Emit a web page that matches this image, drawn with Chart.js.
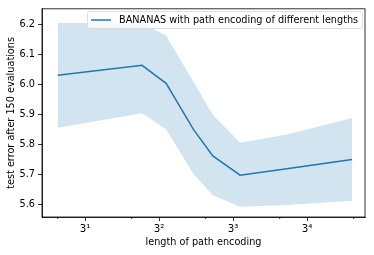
<!DOCTYPE html>
<html>
<head>
<meta charset="utf-8">
<script src="https://cdn.jsdelivr.net/npm/chart.js@4"></script>
<style>
  html, body { margin: 0; padding: 0; background: #fff; }
  #wrap { width: 374px; height: 255px; }
</style>
</head>
<body>
<div id="wrap"><canvas id="chart" width="374" height="255"></canvas></div>
<script>
// path encoding lengths and test error after 150 evaluations
const pathLengths = [2, 7, 10, 15, 20, 30, 60, 158];
const meanError = [6.031, 6.064, 6.004, 5.850, 5.761, 5.697, 5.718, 5.749];
const upperError = [6.206, 6.206, 6.164, 6.009, 5.899, 5.805, 5.833, 5.888];
const lowerError = [5.855, 5.904, 5.850, 5.701, 5.630, 5.591, 5.597, 5.611];

const xTicks = [3, 9, 27, 81];
const xTickLabels = ['3\u00b9', '3\u00b2', '3\u00b3', '3\u2074'];
const xMinorTicks = [2, 6, 18, 54, 162];
const yTicks = [5.6, 5.7, 5.8, 5.9, 6.0, 6.1, 6.2];

const seriesLabel = 'BANANAS with path encoding of different lengths';
const lineColor = '#1f77b4';
const bandColor = 'rgba(31,119,180,0.2)';
const fontFamily = "'DejaVu Sans', sans-serif";
const fontSize = 9.7;

function toPoints(vals) {
  return pathLengths.map((x, i) => ({ x: x, y: vals[i] }));
}

// frame on all four sides, minor ticks and the boxed legend
const mplExtras = {
  id: 'mplExtras',
  afterDraw(chart) {
    const ctx = chart.ctx;
    const a = chart.chartArea;
    const xs = chart.scales.x;
    ctx.save();
    ctx.strokeStyle = '#000';
    ctx.lineWidth = 0.8;
    ctx.strokeRect(a.left, a.top, a.right - a.left, a.bottom - a.top);

    ctx.beginPath();
    xMinorTicks.forEach(v => {
      const px = xs.getPixelForValue(v);
      if (px < a.left || px > a.right) return;
      ctx.moveTo(px, a.bottom);
      ctx.lineTo(px, a.bottom + 2);
    });
    ctx.stroke();

    // legend
    const bx = 87.5, by = 11.5, bw = 275, bh = 17, r = 2;
    ctx.beginPath();
    ctx.moveTo(bx + r, by);
    ctx.arcTo(bx + bw, by, bx + bw, by + bh, r);
    ctx.arcTo(bx + bw, by + bh, bx, by + bh, r);
    ctx.arcTo(bx, by + bh, bx, by, r);
    ctx.arcTo(bx, by, bx + bw, by, r);
    ctx.closePath();
    ctx.fillStyle = 'rgba(255,255,255,0.8)';
    ctx.fill();
    ctx.strokeStyle = '#d5d5d5';
    ctx.lineWidth = 0.8;
    ctx.stroke();

    ctx.beginPath();
    ctx.strokeStyle = lineColor;
    ctx.lineWidth = 1.5;
    ctx.moveTo(91, 20);
    ctx.lineTo(111, 20);
    ctx.stroke();

    ctx.fillStyle = '#000';
    ctx.font = fontSize + 'px ' + fontFamily;
    ctx.textBaseline = 'middle';
    ctx.textAlign = 'left';
    ctx.fillText(seriesLabel, 119, 20.5);
    ctx.restore();
  }
};

new Chart(document.getElementById('chart'), {
  type: 'line',
  data: {
    datasets: [
      {
        label: 'lower',
        data: toPoints(lowerError),
        borderWidth: 0,
        pointRadius: 0,
        fill: false
      },
      {
        label: 'upper',
        data: toPoints(upperError),
        borderWidth: 0,
        pointRadius: 0,
        backgroundColor: bandColor,
        fill: '-1'
      },
      {
        label: seriesLabel,
        data: toPoints(meanError),
        borderColor: lineColor,
        borderWidth: 1.5,
        pointRadius: 0,
        fill: false
      }
    ]
  },
  options: {
    responsive: false,
    animation: false,
    layout: { padding: { top: 6, right: 9, left: 0, bottom: 0 } },
    plugins: {
      legend: { display: false },
      tooltip: { enabled: false }
    },
    elements: { line: { tension: 0 } },
    scales: {
      x: {
        type: 'logarithmic',
        min: 1.584,
        max: 191.6,
        afterBuildTicks: s => { s.ticks = xTicks.map(v => ({ value: v })); },
        afterFit: s => { s.height = 38; },
        grid: { drawOnChartArea: false, drawTicks: true, tickLength: 4, color: '#000', lineWidth: 0.8 },
        border: { display: true, color: '#000', width: 0.8 },
        ticks: {
          autoSkip: false,
          maxRotation: 0,
          padding: 2,
          color: '#000',
          font: { family: fontFamily, size: fontSize + 0.6 },
          callback: v => {
            const i = xTicks.indexOf(v);
            return i >= 0 ? xTickLabels[i] : '';
          }
        },
        title: {
          display: true,
          text: 'length of path encoding',
          color: '#000',
          font: { family: fontFamily, size: fontSize },
          padding: { top: 0, bottom: 6.5 }
        }
      },
      y: {
        type: 'linear',
        min: 5.557,
        max: 6.253,
        afterBuildTicks: s => { s.ticks = yTicks.map(v => ({ value: v })); },
        afterFit: s => { s.width = 42; },
        grid: { drawOnChartArea: false, drawTicks: true, tickLength: 4, color: '#000', lineWidth: 0.8 },
        border: { display: true, color: '#000', width: 0.8 },
        ticks: {
          autoSkip: false,
          padding: 3,
          color: '#000',
          font: { family: fontFamily, size: fontSize },
          callback: v => Number(v).toFixed(1)
        },
        title: {
          display: true,
          text: 'test error after 150 evaluations',
          color: '#000',
          font: { family: fontFamily, size: fontSize },
          padding: { top: 6, bottom: 0 }
        }
      }
    }
  },
  plugins: [mplExtras]
});
</script>
</body>
</html>
